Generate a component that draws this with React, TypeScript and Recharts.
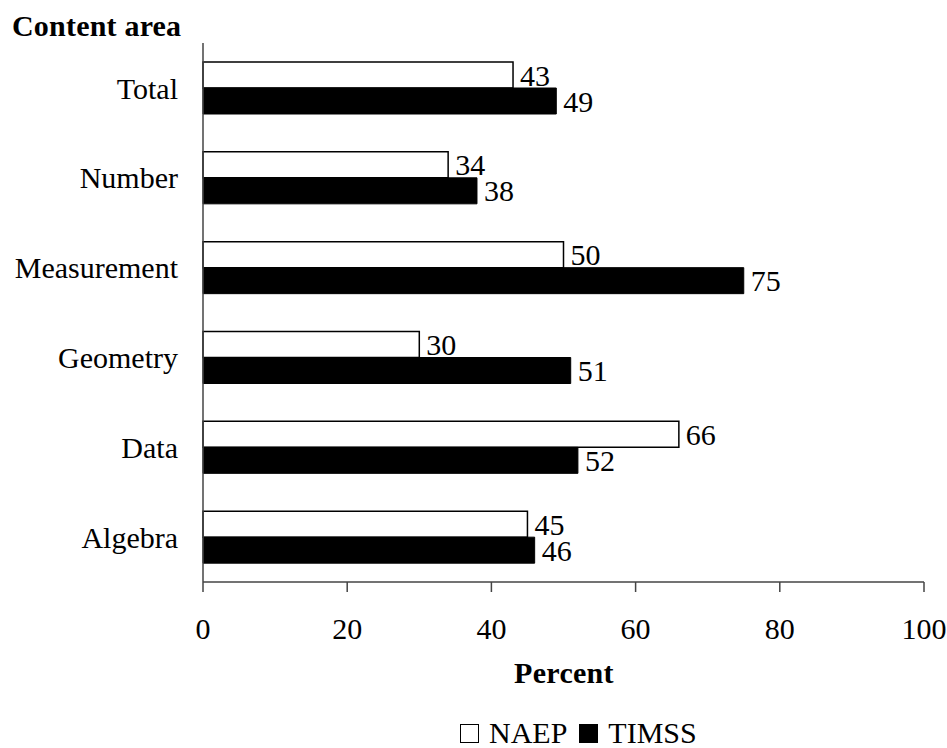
import React from 'react';
import { BarChart, Bar, XAxis, YAxis, LabelList, Legend } from 'recharts';

const areas = ['Total', 'Number', 'Measurement', 'Geometry', 'Data', 'Algebra'];
const naep = [43, 34, 50, 30, 66, 45];
const timss = [49, 38, 75, 51, 52, 46];
const xTicks = [0, 20, 40, 60, 80, 100];
const seriesNames = ['NAEP', 'TIMSS'];

const data = areas.map((area, i) => ({ area, NAEP: naep[i], TIMSS: timss[i] }));

const FONT = '"Liberation Serif", "Times New Roman", serif';
const AXIS = '#444';

const renderLegend = () => (
	<div style={{
		display: 'flex', justifyContent: 'flex-start', alignItems: 'center',
		fontFamily: FONT, fontSize: 30, lineHeight: 1, height: 28, color: '#000', paddingLeft: 460,
	}}>
		{seriesNames.map((name, i) => (
			<span key={name} style={{ display: 'flex', alignItems: 'center', marginRight: 12 }}>
				<span style={{
					display: 'inline-block', width: 17, height: 17, marginRight: 10,
					border: '1.5px solid #000', background: i === 0 ? '#fff' : '#000',
				}} />
				{name}
			</span>
		))}
	</div>
);

export default function App() {
	return (
		<div style={{ position: 'absolute', left: 0, top: 0, background: '#fff' }}>
			<BarChart
				width={947}
				height={748}
				data={data}
				layout="vertical"
				barSize={26}
				barGap={0}
				margin={{ top: 43, right: 23, bottom: 106, left: 0 }}
			>
				<XAxis
					type="number"
					domain={[0, 100]}
					ticks={xTicks}
					tickSize={10}
					tickMargin={26}
					stroke={AXIS}
					strokeWidth={1.5}
					height={60}
					tick={{ fill: '#000', fontSize: 30, fontFamily: FONT }}
				/>
				<YAxis
					type="category"
					dataKey="area"
					width={203}
					tickLine={false}
					tickSize={0}
					tickMargin={25}
					stroke={AXIS}
					strokeWidth={1.5}
					tick={{ fill: '#000', fontSize: 30, fontFamily: FONT }}
				/>
				<Bar dataKey="NAEP" fill="#fff" stroke="#000" strokeWidth={1.5} isAnimationActive={false}>
					<LabelList dataKey="NAEP" position="right" offset={7} fill="#000" fontSize={30} fontFamily={FONT} />
				</Bar>
				<Bar dataKey="TIMSS" fill="#000" stroke="#000" strokeWidth={1} isAnimationActive={false}>
					<LabelList dataKey="TIMSS" position="right" offset={7} fill="#000" fontSize={30} fontFamily={FONT} />
				</Bar>
				<Legend
					verticalAlign="middle"
					align="center"
					content={renderLegend}
					wrapperStyle={{ top: 719, left: 0, width: 947 }}
				/>
				<text x={12} y={36} fontFamily={FONT} fontSize={30} fontWeight="bold" letterSpacing={0.2} fill="#000">
					Content area
				</text>
				<text x={564} y={683} textAnchor="middle" fontFamily={FONT} fontSize={30} fontWeight="bold" letterSpacing={0.3} fill="#000">
					Percent
				</text>
			</BarChart>
		</div>
	);
}
